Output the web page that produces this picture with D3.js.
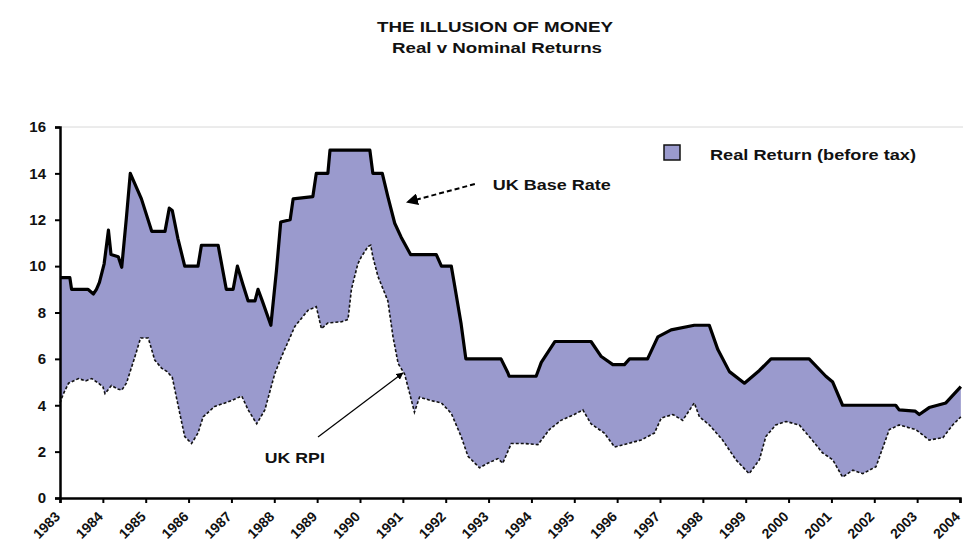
<!DOCTYPE html>
<html>
<head>
<meta charset="utf-8">
<script src="https://cdn.jsdelivr.net/npm/d3@7"></script>
<style>
  body { margin: 0; background: #fff; }
  svg text { font-family: "Liberation Sans", Arial, sans-serif; font-weight: bold; fill: #111; }
</style>
</head>
<body>
<div id="chart"></div>
<script>
// year labels on the x axis
const yearLabels = d3.range(1983, 2005);
const yTicks = [0, 2, 4, 6, 8, 10, 12, 14, 16];

// UK base rate (decimal year, %)
const baseDates = [1983.00, 1983.23, 1983.27, 1983.65, 1983.78, 1983.85, 1983.92, 1984.03, 1984.13, 1984.19,
  1984.36, 1984.44, 1984.55, 1984.64, 1984.90, 1985.14, 1985.45, 1985.55, 1985.62, 1985.75,
  1985.91, 1986.22, 1986.30, 1986.69, 1986.88, 1987.04, 1987.14, 1987.27, 1987.39, 1987.55,
  1987.62, 1987.72, 1987.92, 1988.05, 1988.15, 1988.37, 1988.44, 1988.90, 1988.98, 1989.25,
  1989.30, 1990.23, 1990.30, 1990.52, 1990.65, 1990.81, 1990.96, 1991.18, 1991.78, 1991.90,
  1992.13, 1992.20, 1992.36, 1992.47, 1993.29, 1993.45, 1993.48, 1994.11, 1994.23, 1994.55,
  1995.39, 1995.63, 1995.90, 1996.17, 1996.29, 1996.71, 1996.95, 1997.26, 1997.80, 1998.15,
  1998.35, 1998.62, 1998.97, 1999.32, 1999.59, 2000.48, 2000.87, 2001.03, 2001.26, 2002.50,
  2002.58, 2002.95, 2003.05, 2003.28, 2003.67, 2004.02];
const baseRate = [9.5, 9.5, 9.0, 9.0, 8.8, 9.0, 9.3, 10.1, 11.55, 10.5,
  10.4, 9.95, 12.1, 14.0, 12.9, 11.5, 11.5, 12.5, 12.4, 11.2,
  10.0, 10.0, 10.9, 10.9, 9.0, 9.0, 10.0, 9.2, 8.5, 8.5,
  9.0, 8.5, 7.45, 9.8, 11.9, 12.0, 12.9, 13.0, 14.0, 14.0,
  15.0, 15.0, 14.0, 14.0, 13.0, 11.85, 11.25, 10.5, 10.5, 10.0,
  10.0, 9.25, 7.5, 6.0, 6.0, 5.4, 5.25, 5.25, 5.85, 6.75,
  6.75, 6.1, 5.75, 5.75, 6.0, 6.0, 6.95, 7.25, 7.45, 7.45,
  6.4, 5.45, 4.95, 5.5, 6.0, 6.0, 5.25, 5.0, 4.0, 4.0,
  3.8, 3.75, 3.6, 3.9, 4.1, 4.8];

// UK RPI (decimal year, %)
const rpiDates = [1983.00, 1983.08, 1983.20, 1983.43, 1983.60, 1983.74, 1983.90, 1984.00, 1984.05, 1984.20,
  1984.35, 1984.44, 1984.55, 1984.75, 1984.88, 1985.06, 1985.21, 1985.37, 1985.50, 1985.62,
  1985.76, 1985.91, 1986.07, 1986.22, 1986.34, 1986.61, 1986.85, 1987.00, 1987.24, 1987.39,
  1987.59, 1987.78, 1988.01, 1988.17, 1988.48, 1988.79, 1988.98, 1989.10, 1989.25, 1989.57,
  1989.72, 1989.80, 1989.95, 1990.03, 1990.19, 1990.25, 1990.30, 1990.42, 1990.65, 1990.77,
  1990.89, 1991.04, 1991.16, 1991.27, 1991.39, 1991.66, 1991.90, 1992.13, 1992.36, 1992.52,
  1992.79, 1992.98, 1993.22, 1993.33, 1993.53, 1993.84, 1994.15, 1994.42, 1994.69, 1995.00,
  1995.20, 1995.39, 1995.70, 1995.94, 1996.25, 1996.56, 1996.87, 1997.03, 1997.30, 1997.53,
  1997.80, 1997.92, 1998.15, 1998.46, 1998.77, 1999.08, 1999.32, 1999.47, 1999.70, 1999.94,
  2000.25, 2000.55, 2000.79, 2001.03, 2001.26, 2001.50, 2001.73, 2002.04, 2002.35, 2002.58,
  2002.97, 2003.28, 2003.60, 2003.83, 2004.02];
const rpi = [4.1, 4.5, 4.95, 5.15, 5.05, 5.15, 4.95, 4.8, 4.5, 4.85,
  4.7, 4.65, 4.95, 6.1, 6.9, 6.9, 5.95, 5.6, 5.45, 5.2,
  3.95, 2.65, 2.35, 2.8, 3.5, 3.95, 4.1, 4.2, 4.4, 3.8,
  3.2, 3.8, 5.35, 6.1, 7.4, 8.1, 8.25, 7.3, 7.55, 7.6,
  7.7, 9.0, 10.1, 10.4, 10.85, 10.9, 10.4, 9.55, 8.5, 6.95,
  5.8, 5.35, 4.5, 3.7, 4.35, 4.2, 4.1, 3.65, 2.65, 1.8,
  1.3, 1.5, 1.7, 1.5, 2.35, 2.35, 2.3, 2.95, 3.35, 3.6,
  3.8, 3.2, 2.8, 2.2, 2.35, 2.5, 2.8, 3.45, 3.6, 3.35,
  4.1, 3.5, 3.15, 2.5, 1.65, 1.05, 1.65, 2.65, 3.15, 3.3,
  3.15, 2.5, 1.95, 1.65, 0.9, 1.2, 1.05, 1.35, 2.95, 3.15,
  2.95, 2.5, 2.6, 3.15, 3.5];

const width = 963, height = 546;
const fillColor = "#9a9acd";

const svg = d3.select("#chart").append("svg")
  .attr("width", width).attr("height", height);

const x = d3.scaleLinear().domain([1983, 2004]).range([60, 960]);
const y = d3.scaleLinear().domain([0, 16]).range([498, 127]);

const basePts = baseDates.map((d, i) => [d, baseRate[i]]);
const rpiPts = rpiDates.map((d, i) => [d, rpi[i]]);

const line = d3.line().x(d => x(d[0])).y(d => y(d[1]));

// stretched text, the original renders wide
function label(xp, yp, txt, size, len) {
  return svg.append("text").attr("x", xp).attr("y", yp)
    .style("font-size", size + "px")
    .attr("textLength", len).attr("lengthAdjust", "spacingAndGlyphs")
    .text(txt);
}

// titles
label(377, 32, "THE ILLUSION OF MONEY", 15, 236);
label(392, 53, "Real v Nominal Returns", 14, 210);

// plot area top border
svg.append("line").attr("x1", 60).attr("x2", width).attr("y1", y(16)).attr("y2", y(16))
  .attr("stroke", "#d8d8d8").attr("stroke-width", 1);

// shaded real return between the two lines
svg.append("path")
  .attr("d", line(basePts.concat(rpiPts.slice().reverse())) + "Z")
  .attr("fill", fillColor);

svg.append("path").attr("d", line(rpiPts))
  .attr("fill", "none").attr("stroke", "#111").attr("stroke-width", 1.6)
  .attr("stroke-dasharray", "3,2");

svg.append("path").attr("d", line(basePts))
  .attr("fill", "none").attr("stroke", "#000").attr("stroke-width", 3.2)
  .attr("stroke-linejoin", "round");

// axes
const yAxis = svg.append("g").attr("transform", "translate(60,0)")
  .call(d3.axisLeft(y).tickValues(yTicks).tickSize(5).tickPadding(9));
const xAxis = svg.append("g").attr("transform", "translate(0,498)")
  .call(d3.axisBottom(x).tickValues(yearLabels).tickFormat(d3.format("d")).tickSize(5));

[yAxis, xAxis].forEach(g => {
  g.select(".domain").attr("stroke", "#000").attr("stroke-width", 2.5);
  g.selectAll(".tick line").attr("stroke", "#000").attr("stroke-width", 2);
});
yAxis.selectAll("text").style("font-size", "15px").style("font-family", "Liberation Sans, Arial")
  .style("font-weight", "bold");
xAxis.selectAll("text")
  .style("font-size", "14px").style("font-family", "Liberation Sans, Arial").style("font-weight", "bold")
  .attr("text-anchor", "end").attr("dy", "0.35em")
  .attr("transform", "translate(-3,16) rotate(-45)")
  .attr("y", 0).attr("x", 0);

// legend
svg.append("rect").attr("x", 664).attr("y", 145).attr("width", 16).attr("height", 15)
  .attr("fill", fillColor).attr("stroke", "#111").attr("stroke-width", 1.5);
label(710, 160, "Real Return (before tax)", 14, 206);

// annotations
svg.append("defs").append("marker").attr("id", "arr")
  .attr("viewBox", "0 0 10 10").attr("refX", 9).attr("refY", 5)
  .attr("markerWidth", 6).attr("markerHeight", 6).attr("orient", "auto")
  .append("path").attr("d", "M0,0L10,5L0,10Z").attr("fill", "#000");

svg.append("line")
  .attr("x1", x(1992.68)).attr("y1", y(13.54)).attr("x2", x(1991.1)).attr("y2", y(12.76))
  .attr("stroke", "#000").attr("stroke-width", 2).attr("stroke-dasharray", "5,3")
  .attr("marker-end", "url(#arr)");
label(x(1993.1), y(13.3), "UK Base Rate", 15, 118);

svg.append("line")
  .attr("x1", x(1989.02)).attr("y1", y(2.63)).attr("x2", x(1991.0)).attr("y2", y(5.39))
  .attr("stroke", "#000").attr("stroke-width", 1.2)
  .attr("marker-end", "url(#arr)");
label(x(1987.78), y(1.5), "UK RPI", 15, 60);
</script>
</body>
</html>
